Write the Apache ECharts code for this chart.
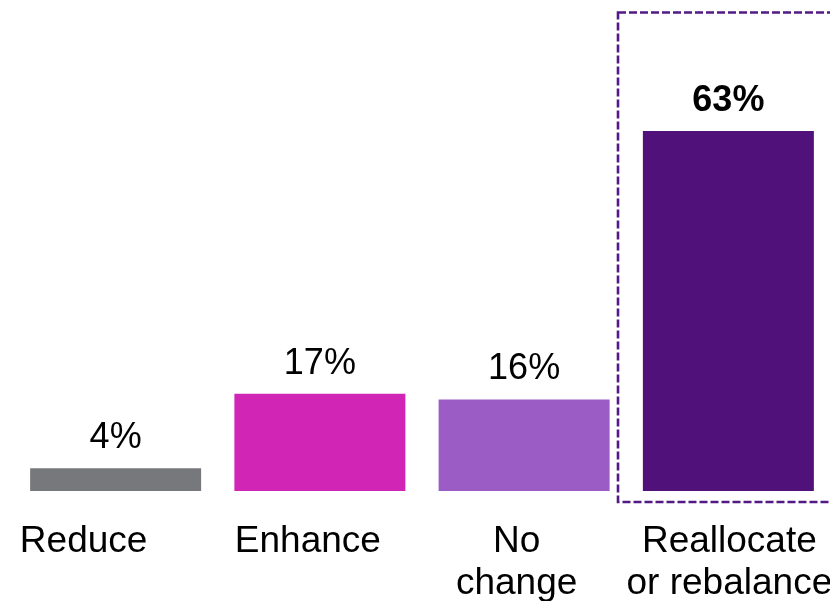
<!DOCTYPE html>
<html>
<head>
<meta charset="utf-8">
<script src="https://cdn.jsdelivr.net/npm/echarts@6/dist/echarts.min.js"></script>
<style>html,body{margin:0;padding:0;background:#fff;}#c{width:830px;height:601px;}</style>
</head>
<body>
<div id="c"></div>
<script>
const categories = ['Reduce', 'Enhance', 'No\nchange', 'Reallocate\nor rebalance'];
const values = [4, 17, 16, 63];
const colors = ['#77787b', '#d125b6', '#9b5dc5', '#50127a'];
const boldIndex = 3;
// horizontal nudge of each category label (label boxes in the original are not centred)
const labelPads = [[0, 64, 0, 0], [0, 24, 0, 0], [0, 15, 0, 0], [0, 0, 0, 2]];

const FONT = '"Liberation Sans", Arial, sans-serif';
const chart = echarts.init(document.getElementById('c'), null, {renderer: 'canvas'});

chart.setOption({
  animation: false,
  grid: {left: 13.5, width: 817, top: 91, bottom: 110, containLabel: false, outerBoundsMode: 'none'},
  xAxis: {
    type: 'category',
    data: categories.map((c, i) => ({value: c, textStyle: {padding: labelPads[i]}})),
    axisLine: {show: false},
    axisTick: {show: false},
    axisLabel: {
      interval: 0,
      color: '#000',
      fontFamily: FONT,
      fontSize: 37,
      lineHeight: 42,
      margin: 30
    }
  },
  yAxis: {type: 'value', min: 0, max: 70, show: false, splitLine: {show: false}},
  series: [{
    type: 'bar',
    barWidth: 171,
    data: values.map((v, i) => ({
      value: v,
      itemStyle: {color: colors[i]},
      label: {fontWeight: i === boldIndex ? 'bold' : 'normal'}
    })),
    label: {
      show: true,
      position: 'top',
      distance: 12,
      color: '#000',
      fontFamily: FONT,
      fontSize: 36,
      formatter: p => p.value + '%'
    }
  }]
});

// dashed highlight box around the last category
const c = chart.convertToPixel({xAxisIndex: 0}, categories.length - 1);
chart.setOption({
  graphic: [{
    type: 'rect',
    shape: {x: Math.round(c - 110.5), y: 12.5, width: 240, height: 489.5},
    style: {fill: 'none', stroke: '#531a87', lineWidth: 2.6, lineDash: [8, 3]},
    silent: true
  }]
});
</script>
</body>
</html>
